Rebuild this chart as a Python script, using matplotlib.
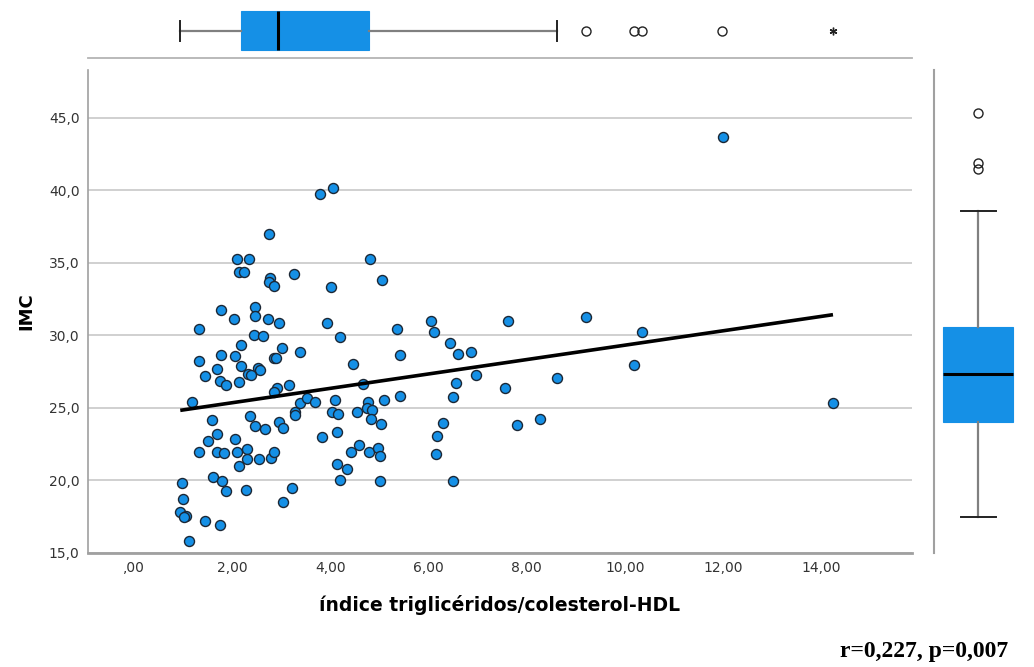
import matplotlib
matplotlib.use("Agg")
import matplotlib.pyplot as plt
import numpy as np

# ---- data ----
tg_hdl = [2.74, 2.10, 2.34, 2.13, 2.24, 2.77, 2.74, 2.85, 3.25, 4.01,
          1.77, 2.04, 2.47, 2.47, 2.72, 2.96, 1.32, 3.94, 2.45, 2.63,
          4.19, 2.18, 3.02, 3.38, 1.76, 2.06, 2.85, 2.90, 1.32, 1.69,
          2.17, 2.53, 2.56, 1.45, 2.32, 2.38, 4.46, 1.74, 1.88, 2.13,
          2.92, 3.15,
          2.84, 1.18, 1.58, 2.36, 2.46, 2.66, 1.69, 1.50, 2.06, 1.32,
          1.69, 1.84, 2.10, 2.31, 2.31, 2.14, 2.55, 2.78, 2.86, 2.96,
          3.04, 3.27, 3.27, 3.38, 3.52, 3.68, 4.10, 4.03, 4.15, 4.54,
          4.14, 3.83, 4.42, 4.59, 4.13, 4.33, 4.20, 1.60, 1.79, 1.87,
          2.28, 3.22, 3.03, 0.98, 0.99, 0.94, 1.05, 1.02, 1.45, 1.75,
          1.11,
          4.80, 5.05, 5.36, 6.05, 6.12, 5.41, 6.43, 6.60, 6.86, 7.61,
          4.67, 6.96, 6.55, 7.55, 8.61,
          5.41, 5.10, 4.76, 6.49, 4.75, 4.85, 4.82, 5.03, 6.29, 6.17,
          6.16, 6.49, 5.00, 4.78, 4.97, 5.00, 7.80, 8.28,
          3.78, 4.05, 12.00, 14.24, 9.21, 10.35, 10.18]
imc = [37.00, 35.28, 35.28, 34.36, 34.36, 33.99, 33.67, 33.39, 34.22, 33.37,
       31.76, 31.16, 31.97, 31.34, 31.16, 30.84, 30.45, 30.86, 30.06, 29.97,
       29.88, 29.37, 29.16, 28.86, 28.68, 28.57, 28.47, 28.45, 28.26, 27.67,
       27.88, 27.76, 27.62, 27.19, 27.37, 27.26, 28.06, 26.86, 26.61, 26.77,
       26.40, 26.59,
       26.12, 25.43, 24.15, 24.47, 23.76, 23.53, 23.19, 22.72, 22.84, 21.97,
       21.97, 21.88, 21.97, 22.15, 21.46, 21.02, 21.46, 21.55, 21.97, 24.06,
       23.64, 24.74, 24.52, 25.37, 25.67, 25.43, 25.55, 24.74, 24.56, 24.74,
       23.37, 22.98, 21.97, 22.45, 21.12, 20.77, 20.06, 20.24, 19.97, 19.26,
       19.34, 19.46, 18.54, 19.83, 18.75, 17.83, 17.55, 17.46, 17.23, 16.95,
       15.83,
       35.26, 33.85, 30.45, 30.98, 30.26, 28.66, 29.46, 28.74, 28.84, 30.98,
       26.66, 27.26, 26.75, 26.40, 27.07,
       25.85, 25.55, 25.43, 25.76, 25.02, 24.86, 24.24, 23.88, 23.97, 23.05,
       21.85, 19.97, 19.97, 21.97, 22.24, 21.71, 23.85, 24.24,
       39.76, 40.17, 43.67, 25.34, 31.25, 30.26, 27.97]

# marginal boxplot summaries (as drawn in the reference)
x_box = dict(whislo=0.94, q1=2.18, med=2.93, q3=4.79, whishi=8.62,
             fliers=[9.21, 10.19, 10.35, 11.98])
x_extreme = [14.24]
y_box = dict(whislo=17.48, q1=24.03, med=27.34, q3=30.59, whishi=38.59,
             fliers=[41.48, 41.90, 45.34])

x_ticks = [0, 2, 4, 6, 8, 10, 12, 14]
y_ticks = [15, 20, 25, 30, 35, 40, 45]
x_label = "índice triglicéridos/colesterol-HDL"
y_label = "IMC"
stat_text = "r=0,227, p=0,007"

BLUE = "#1590e6"
GRID = "#c8c8c8"
SPINE = "#a0a0a0"

W, H = 1034, 667
fig = plt.figure(figsize=(W / 100, H / 100), dpi=100)

def fx(px):
    return px / W

def fy(py):
    return 1 - py / H

L, R, T, B = 88, 912, 70, 553
ax = fig.add_axes([fx(L), fy(B), fx(R) - fx(L), fy(T) - fy(B)])
xlim = (-0.94, 15.85)
ylim = (15.0, 48.3)
ax.set_xlim(*xlim)
ax.set_ylim(*ylim)

ax.scatter(tg_hdl, imc, s=52, color=BLUE, edgecolor="#1b2735", linewidth=1.0, zorder=3)

# least-squares fit line
coef = np.polyfit(tg_hdl, imc, 1)
xs = np.array([min(tg_hdl), max(tg_hdl)])
ax.plot(xs, np.polyval(coef, xs), color="black", lw=2.6, zorder=4, solid_capstyle="butt")

ax.set_yticks(y_ticks)
ax.set_xticks(x_ticks)
ax.set_yticklabels([f"{v:.1f}".replace(".", ",") for v in y_ticks])
ax.set_xticklabels([(f"{v:.2f}".replace(".", ",")).lstrip("0") if v == 0 else f"{v:.2f}".replace(".", ",") for v in x_ticks])
ax.tick_params(length=0, labelsize=10, colors="#333333", pad=6)
ax.yaxis.grid(True, color=GRID, lw=1.2)
ax.set_axisbelow(True)
for s in ["top", "right"]:
    ax.spines[s].set_visible(False)
ax.spines["left"].set_color(SPINE)
ax.spines["bottom"].set_color(SPINE)
ax.spines["left"].set_linewidth(1.2)
ax.spines["bottom"].set_linewidth(2.0)
ax.set_xlabel(x_label, fontsize=13.5, fontweight="bold", labelpad=14)
ax.set_ylabel(y_label, fontsize=13, fontweight="bold", labelpad=10)

# top marginal boxplot
axt = fig.add_axes([fx(L), fy(58), fx(R) - fx(L), fy(0) - fy(58)], sharex=None)
axt.set_xlim(*xlim)
axt.set_ylim(0, 1)
bp = axt.bxp([x_box], positions=[0.466], widths=0.672, orientation="horizontal",
             patch_artist=True, capwidths=0.36,
             boxprops=dict(facecolor=BLUE, edgecolor=BLUE, lw=0.8),
             medianprops=dict(color="black", lw=2.2),
             whiskerprops=dict(color="#808080", lw=1.6),
             capprops=dict(color="#222222", lw=1.4),
             flierprops=dict(marker="o", markerfacecolor="none", markeredgecolor="#222222",
                             markersize=6.5, markeredgewidth=1.0))
axt.plot(x_extreme, [0.466], marker=(6, 2, 0), color="#222222", markersize=5.5, lw=0, mew=1.0)
axt.set_xticks([])
axt.set_yticks([])
for s in ["top", "right", "left"]:
    axt.spines[s].set_visible(False)
axt.spines["bottom"].set_color("#b4b4b4")
axt.spines["bottom"].set_linewidth(1.3)
axt.patch.set_alpha(0)

# right marginal boxplot
axr = fig.add_axes([fx(934), fy(B), fx(W) - fx(934), fy(T) - fy(B)])
axr.set_ylim(*ylim)
axr.set_xlim(0, 1)
axr.bxp([y_box], positions=[0.44], widths=0.70, orientation="vertical",
        patch_artist=True, capwidths=0.35,
        boxprops=dict(facecolor=BLUE, edgecolor=BLUE, lw=0.8),
        medianprops=dict(color="black", lw=2.2),
        whiskerprops=dict(color="#808080", lw=1.6),
        capprops=dict(color="#222222", lw=1.4),
        flierprops=dict(marker="o", markerfacecolor="none", markeredgecolor="#222222",
                        markersize=6.5, markeredgewidth=1.0))
axr.set_xticks([])
axr.set_yticks([])
for s in ["top", "right", "bottom"]:
    axr.spines[s].set_visible(False)
axr.spines["left"].set_color(SPINE)
axr.spines["left"].set_linewidth(1.5)
axr.patch.set_alpha(0)

fig.text(fx(1008), fy(652), stat_text, ha="right", va="center",
         fontsize=17, fontweight="bold", family="Liberation Serif")

fig.savefig("out.png", dpi=100)
